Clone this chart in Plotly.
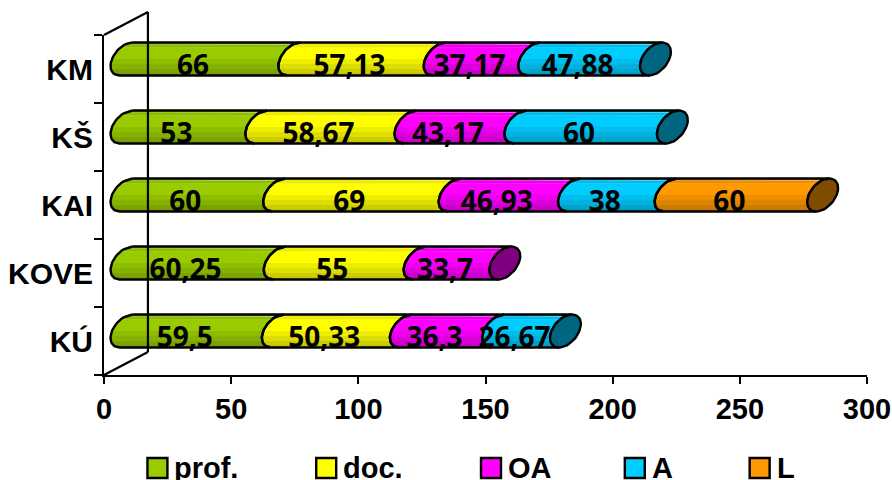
import math
import plotly.graph_objects as go

# ---- data (bottom row first) ----
categories = ["KÚ", "KOVE", "KAI", "KŠ", "KM"]
prof = [59.5, 60.25, 60, 53, 66]
doc = [50.33, 55, 69, 58.67, 57.13]
oa = [36.3, 33.7, 46.93, 43.17, 37.17]
a = [26.67, None, 38, 60, 47.88]
l = [None, None, 60, None, None]
series_names = ["prof.", "doc.", "OA", "A", "L"]
series_values = [prof, doc, oa, a, l]
value_labels = [
    ["59,5", "60,25", "60", "53", "66"],
    ["50,33", "55", "69", "58,67", "57,13"],
    ["36,3", "33,7", "46,93", "43,17", "37,17"],
    ["26,67", None, "38", "60", "47,88"],
    [None, None, "60", None, None],
]
series_colors = [(153, 204, 0), (255, 255, 0), (255, 0, 255), (0, 204, 255), (255, 153, 0)]
cap_colors = ["#4d6600", "#808000", "#800080", "#006680", "#804d00"]
x_ticks = [0, 50, 100, 150, 200, 250, 300]
legend_swatch_left = [147, 316, 481, 625, 750]

# ---- layout in pixels ----
W, H = 892, 480
PL, PR, PT, PB = 103.5, 867.5, 35, 375
SX = (PR - PL) / 300.0
SY = (PB - PT) / 5.0
FONT = "Liberation Sans"
LABEL_FONT = "Noto Sans"
X_TICK_SIZE = 29
Y_TICK_SIZE = 30
LEGEND_SIZE = 29
LABEL_SIZE = 28

DX, DY = 22.0, 10.0      # cylinder centre relative to value / category
RX, SK, RH = 14.0, 6.5, 16.5  # tilted ellipse
BANDS = [(-1.0, .86), (-.88, .93), (-.7, 1.0), (-.3, 1.0), (.0, .93), (.3, .87), (.6, .8), (.85, .76)]


def xd(px):
    return px / SX


def yd(px):
    return px / SY


def arc_x(value, s):
    """data x of the left half of the tilted ellipse at a value, s in [-1, 1] from top to bottom"""
    return value + xd(DX - RX * math.sqrt(max(0, 1 - s * s)) - SK * s)


def row_y(i, s):
    return i + yd(DY) - s * yd(RH)


def shade(c, f):
    return "rgb(%d,%d,%d)" % tuple(min(255, int(v * f)) for v in c)


fig = go.Figure()

# real stacked bars (inner body of each cylinder)
cum = [0.0] * len(categories)
bounds = []
for name, vals, col in zip(series_names, series_values, series_colors):
    base = [c for c in cum]
    fig.add_trace(go.Bar(
        y=[i + yd(DY) for i in range(len(categories))], x=vals, base=[b + xd(12) for b in base],
        orientation="h", width=yd(14), marker=dict(color=shade(col, 1), line=dict(width=0)),
        name=name, showlegend=False, hoverinfo="skip"))
    seg = []
    for i, v in enumerate(vals):
        seg.append(None if v is None else (cum[i], cum[i] + v))
        if v is not None:
            cum[i] += v
    bounds.append(seg)

# shaded cylinder surface
STEPS = 24
for sidx, seg in enumerate(bounds):
    for bi, (s0, f) in enumerate(BANDS):
        s1 = BANDS[bi + 1][0] if bi + 1 < len(BANDS) else 1.0
        xs, ys = [], []
        for i, b in enumerate(seg):
            if b is None:
                continue
            ss = [s0 + (s1 - s0) * k / 4 for k in range(5)]
            xs += [arc_x(b[0], s) for s in ss] + [arc_x(b[1], s) for s in reversed(ss)] + [None]
            ys += [row_y(i, s) for s in ss] + [row_y(i, s) for s in reversed(ss)] + [None]
        fig.add_trace(go.Scatter(x=xs, y=ys, mode="lines", fill="toself", hoverinfo="skip",
                                 fillcolor=shade(series_colors[sidx], f),
                                 line=dict(color=shade(series_colors[sidx], f), width=0.6),
                                 showlegend=False))

# outlines
for sidx, seg in enumerate(bounds):
    xs, ys = [], []
    for i, b in enumerate(seg):
        if b is None:
            continue
        ss = [-1 + 2 * k / STEPS for k in range(STEPS + 1)]
        xs += [arc_x(b[0], s) for s in ss] + [arc_x(b[1], s) for s in reversed(ss)] + [arc_x(b[0], -1), None]
        ys += [row_y(i, s) for s in ss] + [row_y(i, s) for s in reversed(ss)] + [row_y(i, -1), None]
    fig.add_trace(go.Scatter(x=xs, y=ys, mode="lines", hoverinfo="skip", showlegend=False,
                             line=dict(color="black", width=2.4, shape="linear")))

# end caps of each stack
for i in range(len(categories)):
    last = max(k for k in range(len(bounds)) if bounds[k][i] is not None)
    end = bounds[last][i][1]
    xs, ys = [], []
    for k in range(49):
        t = 2 * math.pi * k / 48
        xs.append(end + xd(DX + RX * math.cos(t) - SK * math.sin(t)))
        ys.append(i + yd(DY) - math.sin(t) * yd(RH))
    fig.add_trace(go.Scatter(x=xs, y=ys, mode="lines", fill="toself", fillcolor=cap_colors[last],
                             line=dict(color="black", width=2.4), hoverinfo="skip", showlegend=False))

# value labels
for sidx, seg in enumerate(bounds):
    xs, ys, ts = [], [], []
    for i, b in enumerate(seg):
        if b is None:
            continue
        xs.append((b[0] + b[1]) / 2 + xd(5))
        ys.append(i + yd(1))
        ts.append(value_labels[sidx][i])
    fig.add_trace(go.Scatter(x=xs, y=ys, text=ts, mode="text", textposition="middle center",
                             textfont=dict(family=LABEL_FONT, size=LABEL_SIZE, color="black", weight="bold"),
                             hoverinfo="skip", showlegend=False, cliponaxis=False))

# 3D wall lines (paper coordinates are not clipped at the plot area)
wx = 44 / (PR - PL)
wy = 23 / (PB - PT)
wall = dict(type="line", line=dict(color="black", width=2.2), xref="paper", yref="paper")
shapes = [
    dict(wall, x0=0, y0=1, x1=wx, y1=1 + wy),
    dict(wall, x0=wx, y0=1 + wy, x1=wx, y1=wy),
    dict(wall, x0=0, y0=0, x1=wx, y1=wy),
    dict(type="line", line=dict(color="rgba(0,0,0,0.22)", width=1.5), xref="paper", yref="paper",
         x0=wx, y0=1 + wy, x1=wx, y1=wy, layer="above"),
]

# legend
annotations = []
for left, name, col in zip(legend_swatch_left, series_names, series_colors):
    shapes.append(dict(type="rect", xref="paper", yref="paper",
                       x0=(left - PL) / (PR - PL), x1=(left + 20 - PL) / (PR - PL),
                       y0=(PB - 478) / (PB - PT), y1=(PB - 458) / (PB - PT),
                       fillcolor=shade(col, 1), line=dict(color="black", width=2.4)))
    annotations.append(dict(xref="paper", yref="paper", x=(left + 25 - PL) / (PR - PL),
                            y=(PB - 468) / (PB - PT), text=name, showarrow=False, xanchor="left",
                            yanchor="middle",
                            font=dict(family=FONT, size=LEGEND_SIZE, color="black", weight="bold")))

fig.update_layout(
    width=W, height=H, autosize=False, paper_bgcolor="white", plot_bgcolor="rgba(0,0,0,0)",
    margin=dict(l=PL, r=W - PR, t=PT, b=H - PB, pad=0, autoexpand=False), barmode="overlay", showlegend=False,
    shapes=shapes, annotations=annotations,
    font=dict(family=FONT, size=X_TICK_SIZE, color="black"),
    xaxis=dict(range=[0, 300], tickvals=x_ticks, ticks="outside", ticklen=7, tickwidth=2, tickcolor="black",
               showline=True, linecolor="black", linewidth=2, showgrid=False, zeroline=False, automargin=False,
               tickfont=dict(family=FONT, size=X_TICK_SIZE, color="black", weight="bold")),
    yaxis=dict(range=[-0.5, 4.5], tickmode="array", tickvals=list(range(len(categories))), ticktext=categories,
               ticks="outside", ticklen=3, tickcolor="rgba(0,0,0,0)", tickwidth=2,
               showline=True, linecolor="black", linewidth=2, showgrid=False, zeroline=False, automargin=False,
               minor=dict(tickvals=[i - 0.5 for i in range(len(categories) + 1)], ticks="outside", ticklen=8,
                          tickwidth=2, tickcolor="black", showgrid=False),
               tickfont=dict(family=FONT, size=Y_TICK_SIZE, color="black", weight="bold")),
)
fig.write_html("out.html", config={"displayModeBar": False},
               post_script="document.body.style.margin='0';")
